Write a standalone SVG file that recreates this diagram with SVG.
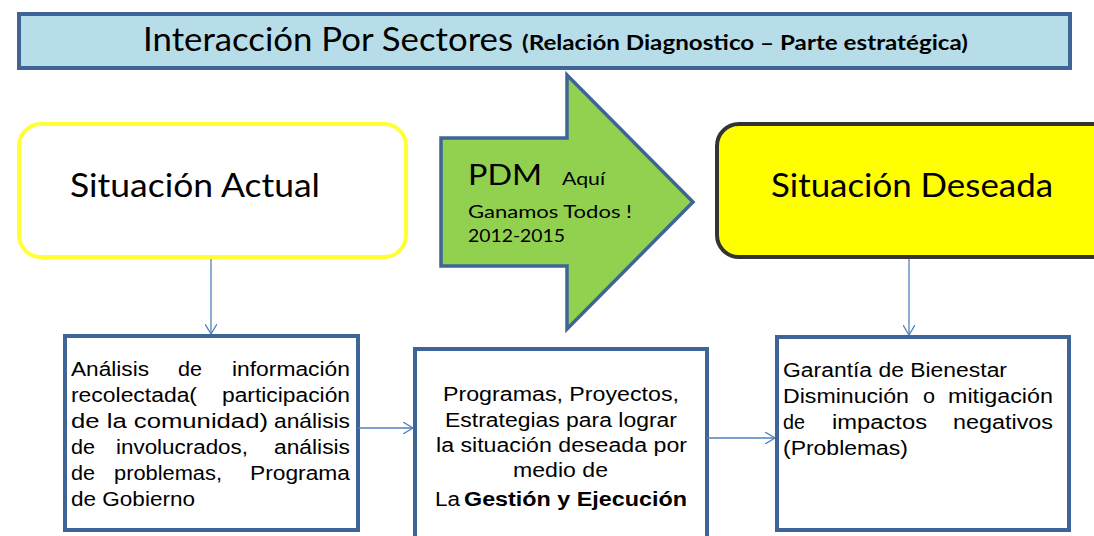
<svg xmlns="http://www.w3.org/2000/svg" width="1094" height="536" viewBox="0 0 1094 536">
<style>
.cal{font-family:Lato,"Open Sans","Liberation Sans",sans-serif;fill:#000}
.ar{font-family:"Liberation Sans",Arial,sans-serif;font-size:20px;fill:#000}
.box{fill:#fff;stroke:#3F6596;stroke-width:4}
.conn{fill:none;stroke:#4F81BD;stroke-width:1.3}
</style>
<defs>
<marker id="arr" viewBox="0 0 10 12" refX="10" refY="6" markerWidth="10" markerHeight="12" markerUnits="userSpaceOnUse" orient="auto">
<path d="M0,0 L10,6 L0,12" fill="none" stroke="#4F81BD" stroke-width="1.3"/>
</marker>
</defs>
<g id="title">
<rect x="19" y="14" width="1051" height="54" fill="#B7DEE8" stroke="#3F6596" stroke-width="4"/>
<text class="cal" x="143" y="51" font-size="32" textLength="370" lengthAdjust="spacingAndGlyphs">Interacción Por Sectores</text>
<text class="cal" x="522" y="50" font-size="20" font-weight="bold" textLength="446" lengthAdjust="spacingAndGlyphs">(Relación Diagnostico – Parte estratégica)</text>
</g>
<g id="actual">
<rect x="19" y="124" width="387" height="133" rx="22" fill="#fff" stroke="#FFFF33" stroke-width="4"/>
<text class="cal" x="70" y="197" font-size="33" textLength="250" lengthAdjust="spacingAndGlyphs">Situación Actual</text>
</g>
<g id="pdm">
<polygon points="441,138 567,138 567,75 693,202 567,329 567,266 441,266" fill="#92D050" stroke="#3F6596" stroke-width="3.5" stroke-linejoin="miter"/>
<text class="cal" x="468" y="185" font-size="28" textLength="74" lengthAdjust="spacingAndGlyphs">PDM</text>
<text class="cal" x="562" y="185" font-size="17" textLength="43" lengthAdjust="spacingAndGlyphs">Aquí</text>
<text class="cal" x="468" y="218" font-size="18" textLength="164" lengthAdjust="spacingAndGlyphs">Ganamos Todos !</text>
<text class="cal" x="468" y="242" font-size="18" textLength="97" lengthAdjust="spacingAndGlyphs">2012-2015</text>
</g>
<g id="deseada">
<rect x="717" y="124" width="400" height="133" rx="22" fill="#FFFF00" stroke="#333333" stroke-width="4"/>
<text class="cal" x="771" y="197" font-size="33" textLength="282" lengthAdjust="spacingAndGlyphs">Situación Deseada</text>
</g>
<g id="analisis">
<rect class="box" x="65" y="336" width="293" height="194"/>
<text class="ar" x="71" y="376" textLength="78" lengthAdjust="spacingAndGlyphs">Análisis</text>
<text class="ar" x="178" y="376" textLength="24" lengthAdjust="spacingAndGlyphs">de</text>
<text class="ar" x="232" y="376" textLength="118" lengthAdjust="spacingAndGlyphs">información</text>
<text class="ar" x="71" y="402" textLength="126" lengthAdjust="spacingAndGlyphs">recolectada(</text>
<text class="ar" x="222" y="402" textLength="128" lengthAdjust="spacingAndGlyphs">participación</text>
<text class="ar" x="71" y="428" textLength="197" lengthAdjust="spacingAndGlyphs">de la comunidad)</text>
<text class="ar" x="274" y="428" textLength="76" lengthAdjust="spacingAndGlyphs">análisis</text>
<text class="ar" x="71" y="454" textLength="24" lengthAdjust="spacingAndGlyphs">de</text>
<text class="ar" x="116" y="454" textLength="132" lengthAdjust="spacingAndGlyphs">involucrados,</text>
<text class="ar" x="274" y="454" textLength="76" lengthAdjust="spacingAndGlyphs">análisis</text>
<text class="ar" x="71" y="480" textLength="24" lengthAdjust="spacingAndGlyphs">de</text>
<text class="ar" x="114" y="480" textLength="108" lengthAdjust="spacingAndGlyphs">problemas,</text>
<text class="ar" x="250" y="480" textLength="100" lengthAdjust="spacingAndGlyphs">Programa</text>
<text class="ar" x="71" y="506" textLength="124" lengthAdjust="spacingAndGlyphs">de Gobierno</text>
</g>
<g id="programas">
<rect class="box" x="415" y="349" width="292" height="200"/>
<text class="ar" x="443" y="401" textLength="236" lengthAdjust="spacingAndGlyphs">Programas, Proyectos,</text>
<text class="ar" x="445" y="427" textLength="232" lengthAdjust="spacingAndGlyphs">Estrategias para lograr</text>
<text class="ar" x="436" y="452" textLength="251" lengthAdjust="spacingAndGlyphs">la situación deseada por</text>
<text class="ar" x="513" y="477" textLength="95" lengthAdjust="spacingAndGlyphs">medio de</text>
<text class="ar" x="435" y="506" textLength="25" lengthAdjust="spacingAndGlyphs">La</text>
<text class="ar" x="464" y="506" font-weight="bold" textLength="223" lengthAdjust="spacingAndGlyphs">Gestión y Ejecución</text>
</g>
<g id="garantia">
<rect class="box" x="777" y="337" width="292" height="193"/>
<text class="ar" x="783" y="377" textLength="224" lengthAdjust="spacingAndGlyphs">Garantía de Bienestar</text>
<text class="ar" x="783" y="403" textLength="126" lengthAdjust="spacingAndGlyphs">Disminución</text>
<text class="ar" x="923" y="403" textLength="12" lengthAdjust="spacingAndGlyphs">o</text>
<text class="ar" x="948" y="403" textLength="105" lengthAdjust="spacingAndGlyphs">mitigación</text>
<text class="ar" x="783" y="429" textLength="22" lengthAdjust="spacingAndGlyphs">de</text>
<text class="ar" x="832" y="429" textLength="95" lengthAdjust="spacingAndGlyphs">impactos</text>
<text class="ar" x="953" y="429" textLength="100" lengthAdjust="spacingAndGlyphs">negativos</text>
<text class="ar" x="783" y="455" textLength="125" lengthAdjust="spacingAndGlyphs">(Problemas)</text>
</g>
<g id="connectors">
<line class="conn" x1="211" y1="259" x2="211" y2="334" marker-end="url(#arr)"/>
<line class="conn" x1="909" y1="259" x2="909" y2="335" marker-end="url(#arr)"/>
<line class="conn" x1="358" y1="428" x2="413" y2="428" marker-end="url(#arr)"/>
<line class="conn" x1="707" y1="438" x2="775" y2="438" marker-end="url(#arr)"/>
</g>
</svg>
